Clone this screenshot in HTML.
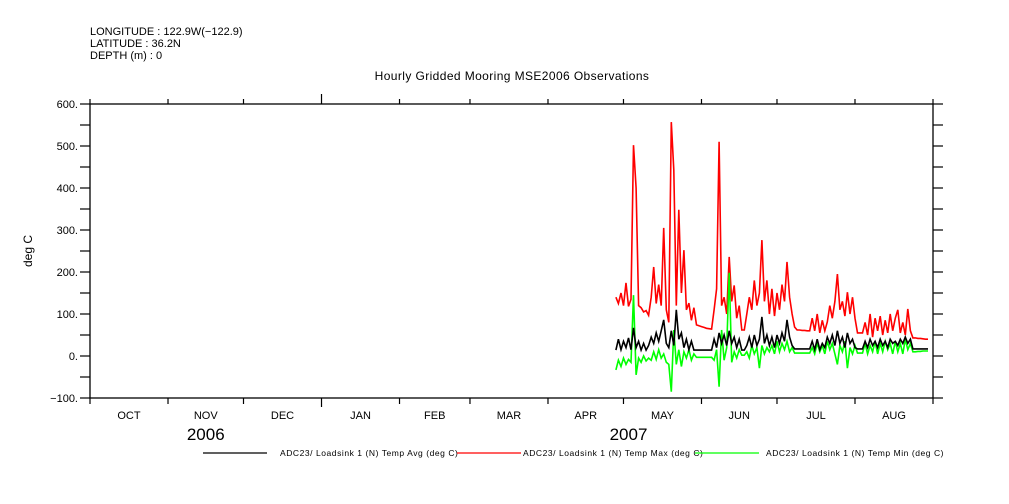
<!DOCTYPE html>
<html><head><meta charset="utf-8"><style>
html,body{margin:0;padding:0;background:#fff;width:1009px;height:504px;overflow:hidden}
svg{display:block;font-family:"Liberation Sans",sans-serif}
</style></head><body>
<svg id="chart" width="1009" height="504" viewBox="0 0 1009 504">
<g font-size="11" fill="#000">
<text x="90" y="35">LONGITUDE : 122.9W(−122.9)</text>
<text x="90" y="47">LATITUDE : 36.2N</text>
<text x="90" y="59">DEPTH (m) : 0</text>
</g>
<text x="512" y="80" font-size="12" text-anchor="middle" letter-spacing="0.4">Hourly Gridded Mooring MSE2006 Observations</text>
<text transform="translate(32,251) rotate(-90)" font-size="12" text-anchor="middle">deg C</text>
<g id="axes"></g>
<g id="series" clip-path="url(#clip)"></g>
<defs><clipPath id="clip"><rect x="90" y="104" width="843" height="294"/></clipPath></defs>
<rect x="90" y="104" width="843" height="294" fill="none" stroke="#000" stroke-width="1.3"/>
<g id="legend" font-size="8.5" letter-spacing="0.55"></g>
</svg>
<script>
const yTicks=[-100,0,100,200,300,400,500,600];
const monthLabels=["OCT","NOV","DEC","JAN","FEB","MAR","APR","MAY","JUN","JUL","AUG"];
const monthStartDays=[0,31,61,92,123,151,182,212,243,273,304,335];
const yearLabels=["2006","2007"];
const yearLabelDays=[46,214];
const days=[209,210,211,212,213,214,215,216,217,218,219,220,221,222,223,224,225,226,227,228,229,230,231,232,233,234,235,236,237,238,239,240,241,242,243,244,245,246,247,248,249,250,251,252,253,254,255,256,257,258,259,260,261,262,263,264,265,266,267,268,269,270,271,272,273,274,275,276,277,278,279,280,281,282,283,284,285,286,287,288,289,290,291,292,293,294,295,296,297,298,299,300,301,302,303,304,305,306,307,308,309,310,311,312,313,314,315,316,317,318,319,320,321,322,323,324,325,326,327,328,329,330,331,332,333];
const maxVals=[140,125,150,120,174,118,135,502,400,120,115,105,108,97,140,212,125,170,120,305,110,80,557,443,120,348,150,252,110,126,85,115,74,72,70,68,66,65,64,110,160,510,120,140,100,236,130,168,90,120,62,62,100,140,110,180,120,150,276,130,180,100,160,95,150,110,170,130,224,140,100,69,62,62,61,61,60,60,90,60,100,55,85,60,81,120,90,130,195,110,130,95,152,100,140,90,55,55,55,80,50,100,45,90,60,95,50,85,55,100,60,90,110,55,80,50,112,60,43,43,42,42,41,40,40];
const avgVals=[14,40,15,35,20,43,15,67,20,35,14,30,14,25,45,30,55,35,60,86,30,20,60,25,110,40,55,20,40,15,35,14,14,14,14,14,14,14,14,40,20,55,30,50,25,60,30,45,20,40,14,14,25,45,20,50,25,40,93,30,50,25,45,20,50,30,55,35,86,45,25,17,17,17,17,17,17,17,35,15,40,15,30,20,45,30,50,25,60,30,45,20,55,30,40,20,17,17,17,35,20,40,25,35,20,40,25,35,20,40,30,35,25,40,30,45,30,40,17,17,17,17,17,17,17];
const minVals=[-33,-10,-25,-5,-20,-8,-15,145,-45,-5,-15,0,-12,-5,-10,10,-8,15,-5,5,-15,-20,-85,62,-20,15,-25,10,-5,15,-10,5,-3,-3,-3,-3,-3,-3,-3,-10,15,-73,62,-10,20,198,-15,10,-5,15,2,2,10,-5,25,5,20,-29,25,5,20,10,25,5,35,10,30,15,35,10,20,7,7,7,7,7,7,7,20,5,30,10,25,5,35,15,30,5,-20,25,10,35,-29,20,5,25,7,7,7,30,5,25,10,35,5,30,10,35,15,30,5,35,10,30,5,40,15,30,10,10,11,11,12,12,12];
const seriesNames=["ADC23/ Loadsink 1 (N) Temp Avg (deg C)","ADC23/ Loadsink 1 (N) Temp Max (deg C)","ADC23/ Loadsink 1 (N) Temp Min (deg C)"];

const X0=90,X1=933,Y0=398,Y1=104,DMAX=335,VMIN=-100,VMAX=600;
const xs=d=>X0+(X1-X0)*d/DMAX;
const ys=v=>Y0-(Y0-Y1)*(v-VMIN)/(VMAX-VMIN);
const NS="http://www.w3.org/2000/svg";
function mk(tag,attrs,parent){const e=document.createElementNS(NS,tag);for(const k in attrs)e.setAttribute(k,attrs[k]);parent.appendChild(e);return e;}
const axes=document.getElementById('axes');
for(let v=VMIN;v<=VMAX;v+=50){
  const y=ys(v);
  const t1=mk('line',{x1:80,x2:X0,y1:y,y2:y,stroke:'#000','stroke-width':1.2},axes);
  
  
  const t2=mk('line',{x1:X1,x2:943,y1:y,y2:y,stroke:'#000','stroke-width':1.2},axes);
  
  
}
yTicks.forEach(v=>{
  const t=mk('text',{x:78,y:ys(v)+4,'font-size':11,'text-anchor':'end'},axes);
  t.textContent=(v<0?'−'+(-v):v)+'.';
  
  
});
monthStartDays.forEach((d,i)=>{
  const x=xs(d);const yr=(d===92);
  const b=mk('line',{x1:x,x2:x,y1:Y0,y2:yr?407:404,stroke:'#000','stroke-width':1.2},axes);
  
  
  const t=mk('line',{x1:x,x2:x,y1:Y1,y2:yr?94:99,stroke:'#000','stroke-width':1.2},axes);
  
  
});
monthLabels.forEach((m,i)=>{
  const x=(xs(monthStartDays[i])+xs(monthStartDays[i+1]))/2;
  const t=mk('text',{x:x,y:419,'font-size':11,'text-anchor':'middle'},axes);
  t.textContent=m;
  
  
});
yearLabels.forEach((y,i)=>{
  const t=mk('text',{x:xs(yearLabelDays[i]),y:440,'font-size':17,'text-anchor':'middle'},axes);
  t.textContent=y;
  
  
});
const ser=document.getElementById('series');
function drawLine(vals,color,name,w){
  const d=vals.map((v,i)=>(i?'L':'M')+xs(days[i]).toFixed(1)+','+ys(v).toFixed(1)).join('');
  const p=mk('path',{d:d,fill:'none',stroke:color,'stroke-width':w},ser);
  
  
}
drawLine(maxVals,'#ff0000','series-temp-max',1.6);
drawLine(minVals,'#00ff00','series-temp-min',1.6);
drawLine(avgVals,'#000000','series-temp-avg',1.6);
const leg=document.getElementById('legend');
const legColors=['#000','#ff0000','#00ff00'];
const legLineX=[203,457,695];
const legTextX=[280,523,766];
legColors.forEach((c,i)=>{
  const l=mk('line',{x1:legLineX[i],x2:legLineX[i]+64,y1:453,y2:453,stroke:c,'stroke-width':1.2},leg);
  
  
  const t=mk('text',{x:legTextX[i],y:456},leg);
  t.textContent=seriesNames[i];
  
  
});
</script>
</body></html>
